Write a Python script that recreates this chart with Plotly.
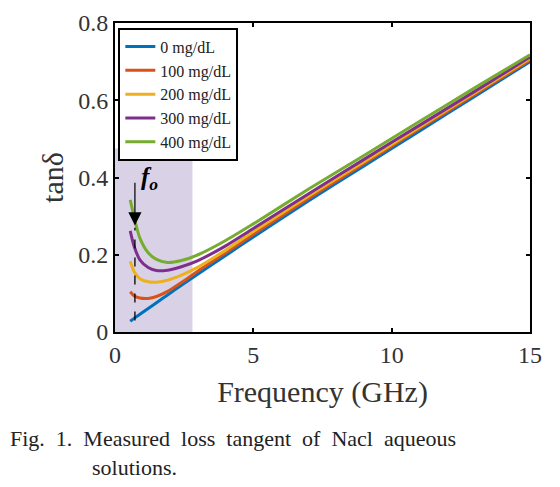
import plotly.graph_objects as go

freq = [0.55, 0.7, 0.9, 1.2, 1.5, 1.9, 2.4, 3.0, 4.0, 5.0, 7.0, 9.0, 11.0, 13.0, 15.0]
tan_0 = [0.028, 0.036, 0.046, 0.061, 0.076, 0.096, 0.121, 0.150, 0.198, 0.246, 0.340, 0.430, 0.520, 0.610, 0.700]
tan_100 = [0.104, 0.093, 0.088, 0.087, 0.092, 0.105, 0.128, 0.158, 0.205, 0.253, 0.346, 0.436, 0.526, 0.615, 0.704]
tan_200 = [0.183, 0.155, 0.138, 0.130, 0.129, 0.134, 0.147, 0.168, 0.212, 0.260, 0.352, 0.441, 0.530, 0.619, 0.708]
tan_300 = [0.262, 0.220, 0.187, 0.167, 0.159, 0.160, 0.169, 0.185, 0.223, 0.268, 0.358, 0.447, 0.535, 0.623, 0.712]
tan_400 = [0.342, 0.295, 0.243, 0.205, 0.188, 0.180, 0.185, 0.200, 0.237, 0.280, 0.370, 0.457, 0.545, 0.632, 0.718]

series_names = ["0 mg/dL", "100 mg/dL", "200 mg/dL", "300 mg/dL", "400 mg/dL"]
series_vals = [tan_0, tan_100, tan_200, tan_300, tan_400]
colors = ["#0072BD", "#D95319", "#EDB120", "#7E2F8E", "#77AC30"]

x_ticks = [0, 5, 10, 15]
y_ticks = [0, 0.2, 0.4, 0.6, 0.8]
y_tick_text = ["0", "0.2", "0.4", "0.6", "0.8"]

shade_x = [0, 2.8]
shade_y = [0, 0.475]
f_o = 0.72
f_o_arrow = [0.39, 0.276]
f_o_dash = [0.03, 0.27]

caption_1 = "Fig.&nbsp; 1.&nbsp; Measured&nbsp; loss&nbsp; tangent&nbsp; of&nbsp; Nacl&nbsp; aqueous"
caption_2 = "solutions."

serif = "Liberation Serif, Times New Roman, serif"

W, H = 560, 487
ML, MR, MT, MB = 115, 30, 23, 155
plot_w = W - ML - MR
plot_h = H - MT - MB


def px_to_paper(px, py):
    return (px - ML) / plot_w, (H - MB - py) / plot_h


fig = go.Figure()
for name, vals, c in zip(series_names, series_vals, colors):
    fig.add_trace(go.Scatter(x=freq, y=vals, mode="lines", name=name,
                             line=dict(color=c, width=3, shape="spline", smoothing=0.8)))

fig.add_shape(type="rect", xref="x", yref="y", x0=shade_x[0], x1=shade_x[1],
              y0=shade_y[0], y1=shade_y[1], fillcolor="#d9d2e6", line=dict(width=0), layer="below")
fig.add_shape(type="line", xref="x", yref="y", x0=f_o, x1=f_o, y0=f_o_dash[0], y1=f_o_dash[1],
              line=dict(color="black", width=1.3, dash="dash"))
fig.add_annotation(x=f_o, y=f_o_arrow[1], ax=f_o, ay=f_o_arrow[0], xref="x", yref="y",
                   axref="x", ayref="y", showarrow=True, arrowhead=2, arrowsize=2.2,
                   arrowwidth=1.2, arrowcolor="black", text="")
fig.add_annotation(x=1.25, y=0.398, xref="x", yref="y", showarrow=False,
                   text="<b><i>f<sub>o</sub></i></b>", font=dict(family=serif, size=25, color="black"))

cx, cy = px_to_paper(8, 438)
fig.add_annotation(x=cx, y=cy, xref="paper", yref="paper", showarrow=False,
                   text=caption_1, xanchor="left", yanchor="middle",
                   font=dict(family=serif, size=22, color="#222"))
cx2, cy2 = px_to_paper(90, 467)
fig.add_annotation(x=cx2, y=cy2, xref="paper", yref="paper", showarrow=False,
                   text=caption_2, xanchor="left", yanchor="middle",
                   font=dict(family=serif, size=22, color="#222"))

fig.update_layout(
    width=W, height=H,
    margin=dict(l=ML, r=MR, t=MT, b=MB, autoexpand=False),
    plot_bgcolor="white", paper_bgcolor="white",
    font=dict(family=serif, color="#333"),
    showlegend=True,
    legend=dict(x=0.008, y=0.985, xanchor="left", yanchor="top",
                bgcolor="white", bordercolor="black", borderwidth=2,
                font=dict(family=serif, size=16, color="#222"),
                itemwidth=30, tracegroupgap=0),
    xaxis=dict(range=[0, 15], tickvals=x_ticks, showline=True, linecolor="black", linewidth=2,
               mirror="allticks", ticks="inside", ticklen=4, tickwidth=2, tickcolor="black",
               showgrid=False, zeroline=False,
               tickfont=dict(family=serif, size=24, color="#333"),
               title=dict(text="Frequency (GHz)", font=dict(family=serif, size=30, color="#333"), standoff=14)),
    yaxis=dict(range=[0, 0.8], tickvals=y_ticks, ticktext=y_tick_text, showline=True, linecolor="black",
               linewidth=2, mirror="allticks", ticks="inside", ticklen=4, tickwidth=2, tickcolor="black",
               showgrid=False, zeroline=False,
               tickfont=dict(family=serif, size=24, color="#333"),
               title=dict(text="tanδ", font=dict(family=serif, size=30, color="#333"), standoff=6)),
)

fig.write_html("out.html", config={"displayModeBar": False},
               post_script="document.body.style.margin='0';document.body.style.overflow='hidden';")
